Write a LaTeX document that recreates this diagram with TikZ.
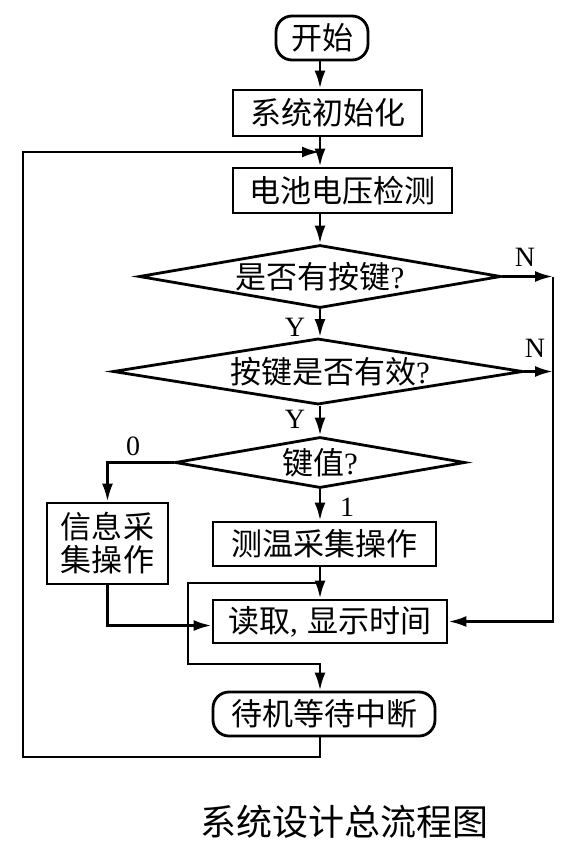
\documentclass[tikz,border=0pt]{standalone}
\usepackage{fontspec}
\setmainfont{Liberation Serif}
\newfontfamily\cjk{Noto Sans CJK SC}
\usetikzlibrary{shapes.geometric,arrows.meta}
\tikzset{
  box/.style={draw, line width=1.4pt, inner sep=0pt, align=center,
    font=\cjk\fontsize{15.5}{16.5}\selectfont},
  term/.style={box, rounded corners=8pt},
  decide/.style={box, diamond, aspect=6},
  lbl/.style={font=\fontsize{14}{16}\selectfont, inner sep=0pt},
  flow/.style={line width=1.4pt, -{Latex[length=9pt,width=5.5pt]}},
  wire/.style={line width=1.4pt},
}
\begin{document}
\begin{tikzpicture}[x=0.5pt,y=-0.5pt]
    \useasboundingbox (0,0) rectangle (571,851);
    \coordinate (mid) at (320,0);

    \node[term, minimum width=46pt, minimum height=22pt] (start) at (322,38) {开始};
    \node[box, minimum width=94.5pt, minimum height=23pt] (init) at (327.5,113) {系统初始化};
    \node[box, minimum width=109.5pt, minimum height=22.5pt] (batt) at (342.5,190.5) {电池电压检测};
    \node[decide, minimum width=181pt, minimum height=31.5pt] (key) at (320,276.5) {是否有按键{\rmfamily ?}};
    \node[decide, minimum width=205pt, minimum height=31.5pt] (valid) at (318,371.5) {\hspace{12pt}按键是否有效{\rmfamily ?}};
    \node[decide, minimum width=145pt, minimum height=25.5pt] (val) at (320,462.5) {键值{\rmfamily ?}};
    \node[box, minimum width=60.5pt, minimum height=40.5pt] (info) at (107.5,543.5) {信息采\\集操作};
    \node[box, minimum width=111.5pt, minimum height=22pt] (meas) at (324.5,544) {测温采集操作};
    \node[box, minimum width=117pt, minimum height=21.5pt] (read) at (330,621.5) {读取{\rmfamily ,}\hspace{5pt}显示时间};
    \node[term, minimum width=111pt, minimum height=22pt] (stby) at (324,714) {待机等待中断};
    \node[font=\cjk\fontsize{18}{20}\selectfont] (title) at (344,822) {系统设计总流程图};

    \node[lbl] (y1) at (295,327) {Y};
    \node[lbl] (y2) at (295,419) {Y};
    \node[lbl] (n1) at (525,257) {N};
    \node[lbl] (n2) at (535,348) {N};
    \node[lbl] (k0) at (133,446) {0};
    \node[lbl] (k1) at (347,507) {1};

    \coordinate (rgt) at (553,276.5);
    \coordinate (bpa) at (188,583);
    \coordinate (bpb) at (188,664);
    \coordinate (lpa) at (23,757);
    \coordinate (lpb) at (23,152);

    \draw[flow] (start.south -| mid) -- (init.north -| mid);
    \draw[flow] (init.south -| mid) -- (batt.north -| mid);
    \draw[flow] (batt.south -| mid) -- (key.north);
    \draw[flow] (key.south) -- (valid.north -| mid);
    \draw[flow] (valid.south -| mid) -- (val.north);
    \draw[flow] (val.south) -- (meas.north -| mid);
    \draw[flow] (meas.south -| mid) -- (read.north -| mid);

    \draw[flow] (key.east) -- (rgt);
    \draw[flow] (valid.east) -- (valid.east -| rgt);
    \draw[flow] (rgt) |- (read.east);

    \draw[flow] (val.west) -| (info.north);
    \draw[flow] (info.south) |- ([yshift=-2pt]read.west);

    \draw[flow] (mid |- bpa) -- (bpa) -- (bpb) -- (bpb -| mid) -- (stby.north -| mid);
    \draw[flow] (stby.south -| mid) -- (mid |- lpa) -- (lpa) -- (lpb) -- (lpb -| mid);
\end{tikzpicture}
\end{document}
